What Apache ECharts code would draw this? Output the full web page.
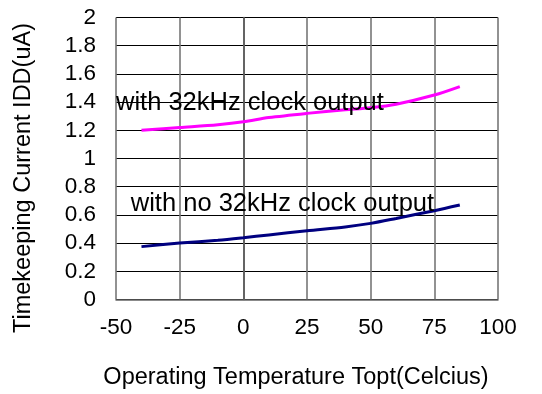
<!DOCTYPE html>
<html>
<head>
<meta charset="utf-8">
<script src="https://cdn.jsdelivr.net/npm/echarts@6/dist/echarts.min.js"></script>
<style>
  html, body { margin: 0; padding: 0; background: #fff; }
  #chart { width: 542px; height: 394px; }
</style>
</head>
<body>
<div id="chart"></div>
<script>
  // temperatures (Celcius) and currents (uA)
  const temps = [-40, -25, -10, 0, 10, 25, 40, 50, 60, 75, 85];
  const withClock = [1.2, 1.22, 1.24, 1.26, 1.29, 1.32, 1.345, 1.36, 1.385, 1.45, 1.51];
  const noClock = [0.375, 0.4, 0.42, 0.438, 0.458, 0.488, 0.515, 0.54, 0.575, 0.63, 0.67];

  const xName = 'Operating Temperature Topt(Celcius)';
  const yName = 'Timekeeping Current IDD(uA)';
  // curve captions and where they sit, in data units
  const captions = ['with 32kHz clock output', 'with no 32kHz clock output'];
  const captionAt = [[-50, 1.392], [-44.2, 0.681]];

  const font = '"Liberation Sans", Arial, sans-serif';

  function pairs(xs, ys) {
    return xs.map(function (x, i) { return [x, ys[i]]; });
  }

  const chart = echarts.init(document.getElementById('chart'), null, { renderer: 'canvas' });

  const option = {
    animation: false,
    backgroundColor: '#fff',
    grid: { left: 116, right: 44, top: 17.5, bottom: 94.5 },
    xAxis: {
      type: 'value',
      min: -50,
      max: 100,
      interval: 25,
      axisLine: { lineStyle: { color: '#666', width: 1.5 } },
      axisTick: { show: false },
      axisLabel: { color: '#000', fontSize: 22.5, fontFamily: font, margin: 17 },
      splitLine: { show: true, lineStyle: { color: '#777', width: 1.6 } }
    },
    yAxis: {
      type: 'value',
      min: 0,
      max: 2,
      interval: 0.2,
      axisLine: { show: true, lineStyle: { color: '#555', width: 1.5 } },
      axisTick: { show: false },
      axisLabel: { color: '#000', fontSize: 22.5, fontFamily: font, margin: 20 },
      splitLine: { show: true, lineStyle: { color: '#000', width: 1 } }
    },
    series: [
      {
        name: captions[0],
        type: 'line',
        data: pairs(temps, withClock),
        smooth: 0.3,
        showSymbol: false,
        lineStyle: { color: '#ff00ff', width: 3 },
        z: 3
      },
      {
        name: captions[1],
        type: 'line',
        data: pairs(temps, noClock),
        smooth: 0.3,
        showSymbol: false,
        lineStyle: { color: '#000080', width: 3 },
        z: 3
      }
    ]
  };

  chart.setOption(option);

  // axis titles and curve captions
  const graphics = [
    {
      type: 'text', x: 296, y: 378, z: 10,
      style: { text: xName, fill: '#000', font: '23.5px ' + font, align: 'center', verticalAlign: 'middle' }
    },
    {
      type: 'text', x: 24, y: 178, rotation: Math.PI / 2, z: 10,
      style: { text: yName, fill: '#000', font: '23.5px ' + font, align: 'center', verticalAlign: 'middle' }
    }
  ];
  captions.forEach(function (t, i) {
    const p = chart.convertToPixel({ gridIndex: 0 }, captionAt[i]);
    graphics.push({
      type: 'text', x: p[0], y: p[1], z: 10,
      style: { text: t, fill: '#000', font: '25.5px ' + font, align: 'left', verticalAlign: 'middle' }
    });
  });
  chart.setOption({ graphic: graphics });
</script>
</body>
</html>
